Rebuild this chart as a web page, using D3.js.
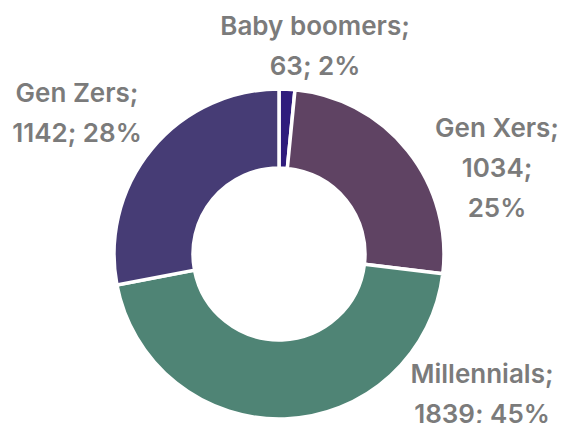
<!DOCTYPE html>
<html>
<head>
<meta charset="utf-8">
<script src="https://cdn.jsdelivr.net/npm/d3@7"></script>
<style>
  body { margin: 0; background: #fff; }
  text { font-family: Inter, "Open Sans", sans-serif; font-weight: 600; fill: #7b7b7b; }
</style>
</head>
<body>
<div id="chart"></div>
<script>
// data
var categories = ["Baby boomers", "Gen Xers", "Millennials", "Gen Zers"];
var counts = [63, 1034, 1839, 1142];
var shares = ["2%", "25%", "45%", "28%"];
var colors = ["#2f1c7c", "#5f4363", "#4f8475", "#463c75"];

// label lines (as they wrap in the picture)
var labelLines = [
  ["Baby boomers;", "63; 2%"],
  ["Gen Xers;", "1034;", "25%"],
  ["Millennials;", "1839; 45%"],
  ["Gen Zers;", "1142; 28%"]
];
// where each label sits, relative to the donut centre
var labelOffset = [[36, -219], [218, -117], [203, 129], [-202, -152]];

var width = 561, height = 423;
var cx = 279, cy = 254, outerR = 165, innerR = 86;

var svg = d3.select("#chart")
  .append("svg")
    .attr("width", width)
    .attr("height", height)
  .append("g")
    .attr("transform", "translate(" + cx + "," + cy + ")");

var data = categories.map(function(c, i) {
  return {name: c, value: counts[i], color: colors[i], lines: labelLines[i], off: labelOffset[i]};
});

var pie = d3.pie()
  .sort(null)
  .value(function(d) { return d.value; });

var arc = d3.arc()
  .innerRadius(innerR)
  .outerRadius(outerR);

svg.selectAll("path")
  .data(pie(data))
  .enter().append("path")
    .attr("d", arc)
    .attr("fill", function(d) { return d.data.color; })
    .attr("stroke", "#fff")
    .attr("stroke-width", 3.5);

// labels
var lineH = 40;
var labels = svg.selectAll("text.lbl")
  .data(data)
  .enter().append("text")
    .attr("class", "lbl")
    .attr("text-anchor", "middle")
    .attr("font-size", 26)
    .attr("transform", function(d) { return "translate(" + d.off[0] + "," + d.off[1] + ")"; });

labels.selectAll("tspan")
  .data(function(d) { return d.lines; })
  .enter().append("tspan")
    .attr("x", 0)
    .attr("y", function(d, i) { return i * lineH; })
    .text(function(d) { return d; });
</script>
</body>
</html>
